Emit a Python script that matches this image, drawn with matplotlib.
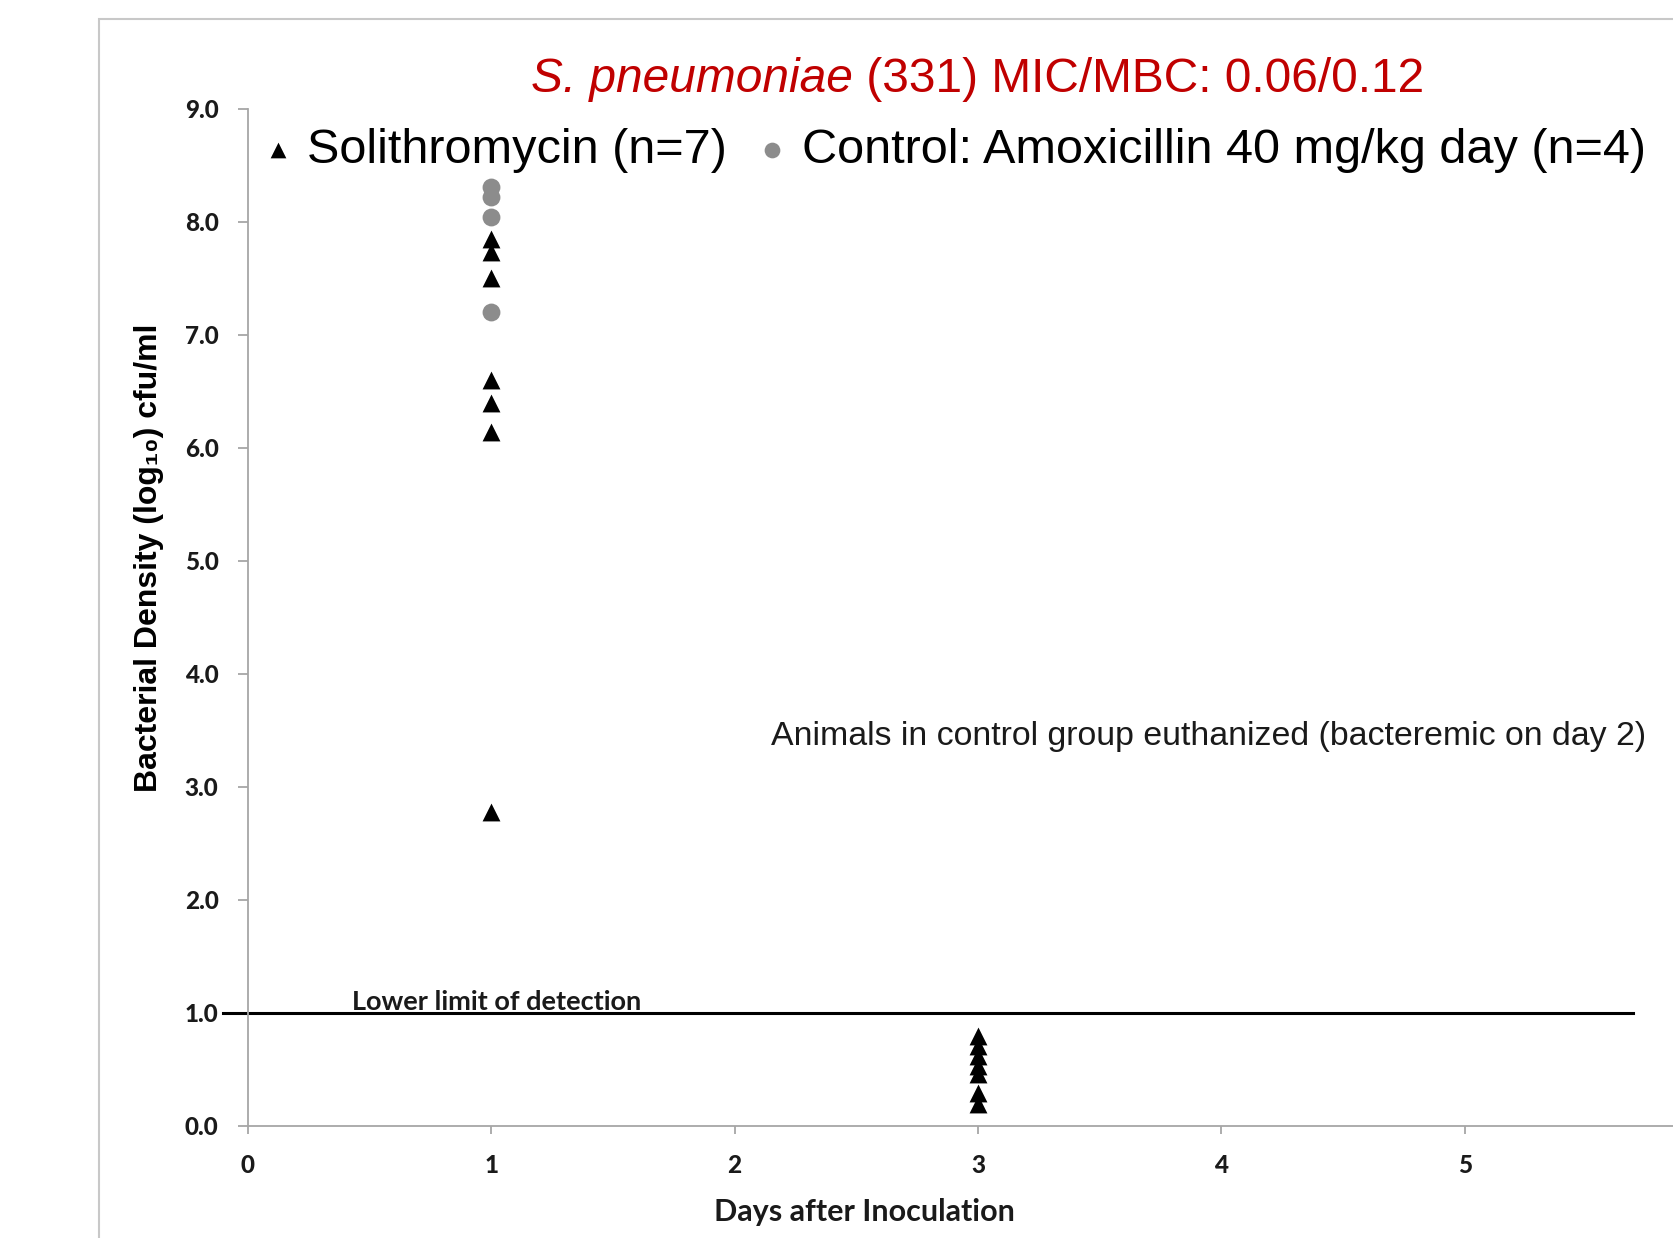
import matplotlib.pyplot as plt
from matplotlib.patches import Rectangle

# data
soli_days = [1, 1, 1, 1, 1, 1, 1, 3, 3, 3, 3, 3, 3, 3]
soli_cfu = [7.85, 7.73, 7.50, 6.60, 6.40, 6.14, 2.78,
            0.80, 0.71, 0.62, 0.53, 0.46, 0.29, 0.19]
ctrl_days = [1, 1, 1, 1]
ctrl_cfu = [8.31, 8.22, 8.04, 7.20]
lod = 1.0
x_ticks = [0, 1, 2, 3, 4, 5]
y_ticks = [0, 1, 2, 3, 4, 5, 6, 7, 8, 9]

fig = plt.figure(figsize=(16.74, 12.38), dpi=100)
fig.patches.append(Rectangle((0.0593, -0.1), 1.2, 1.085, transform=fig.transFigure,
                             fill=False, edgecolor='#c8c8c8', lw=1.5))

ax = fig.add_axes([0.148, 0.0905, 0.852, 0.8215])
ax.set_xlim(0, 5.86)
ax.set_ylim(0, 9)

ax.plot([-0.1, 5.69], [lod, lod], color='black', lw=2.2, clip_on=False, zorder=2)

tri = ax.scatter(soli_days, soli_cfu, marker='^', s=165, color='black', lw=0,
                 clip_on=False, zorder=3, label='Solithromycin (n=7)')
dot = ax.scatter(ctrl_days, ctrl_cfu, marker='o', s=165, color='#8c8c8c', lw=0,
                 clip_on=False, zorder=3, label='Control: Amoxicillin 40 mg/kg day (n=4)')

for s in ['top', 'right']:
    ax.spines[s].set_visible(False)
for s in ['left', 'bottom']:
    ax.spines[s].set_color('#a6a6a6')
    ax.spines[s].set_linewidth(1.3)

ax.set_xticks(x_ticks)
ax.set_yticks(y_ticks)
ax.set_yticklabels([f'{v:.1f}' for v in y_ticks])
ax.tick_params(axis='y', length=7, width=1.3, color='#a6a6a6', pad=14)
ax.tick_params(axis='x', length=6, width=1.3, color='#a6a6a6', pad=14)
for lab in ax.get_xticklabels() + ax.get_yticklabels():
    lab.set_fontfamily('Lato')
    lab.set_fontweight('black')
    lab.set_fontsize(17.5)
    lab.set_color('#1a1a1a')

ax.set_ylabel('Bacterial Density (log₁₀) cfu/ml', fontsize=23, fontweight='bold',
              family=['Liberation Sans', 'DejaVu Sans'])
ax.yaxis.set_label_coords(-0.059, 5.03 / 9)
fig.text(0.5166, 0.021, 'Days after Inoculation', fontsize=22, fontweight='bold',
         family='Lato', ha='center', va='center', color='#1a1a1a')

# title: italic species name followed by regular text
t1 = fig.text(0.317, 0.926, 'S. pneumoniae', fontsize=34.5, family='Liberation Sans',
              style='italic', color='#c00000', ha='left', va='baseline')
fig.canvas.draw()
bb = t1.get_window_extent()
fig.text(bb.x1 / fig.bbox.width, 0.926, ' (331) MIC/MBC: 0.06/0.12', fontsize=34.5,
         family='Liberation Sans', color='#c00000', ha='left', va='baseline')

ax.legend(handles=[tri, dot], ncol=2, frameon=False, loc='center left',
          bbox_to_anchor=(-0.023, 0.959), prop={'family': 'Liberation Sans', 'size': 35},
          handletextpad=0.2, columnspacing=0.53, markerscale=0.88, handlelength=0.8,
          borderpad=0.4)

ax.text(2.15, 3.45, 'Animals in control group euthanized (bacteremic on day 2)',
        fontsize=24.4, family='Liberation Sans', va='center', ha='left', color='#1a1a1a')
ax.text(0.43, 0.99, 'Lower limit of detection', fontsize=19.5, family='Lato',
        fontweight='bold', va='bottom', ha='left', color='#1a1a1a')

fig.savefig('out.png', dpi=100, facecolor='white')
